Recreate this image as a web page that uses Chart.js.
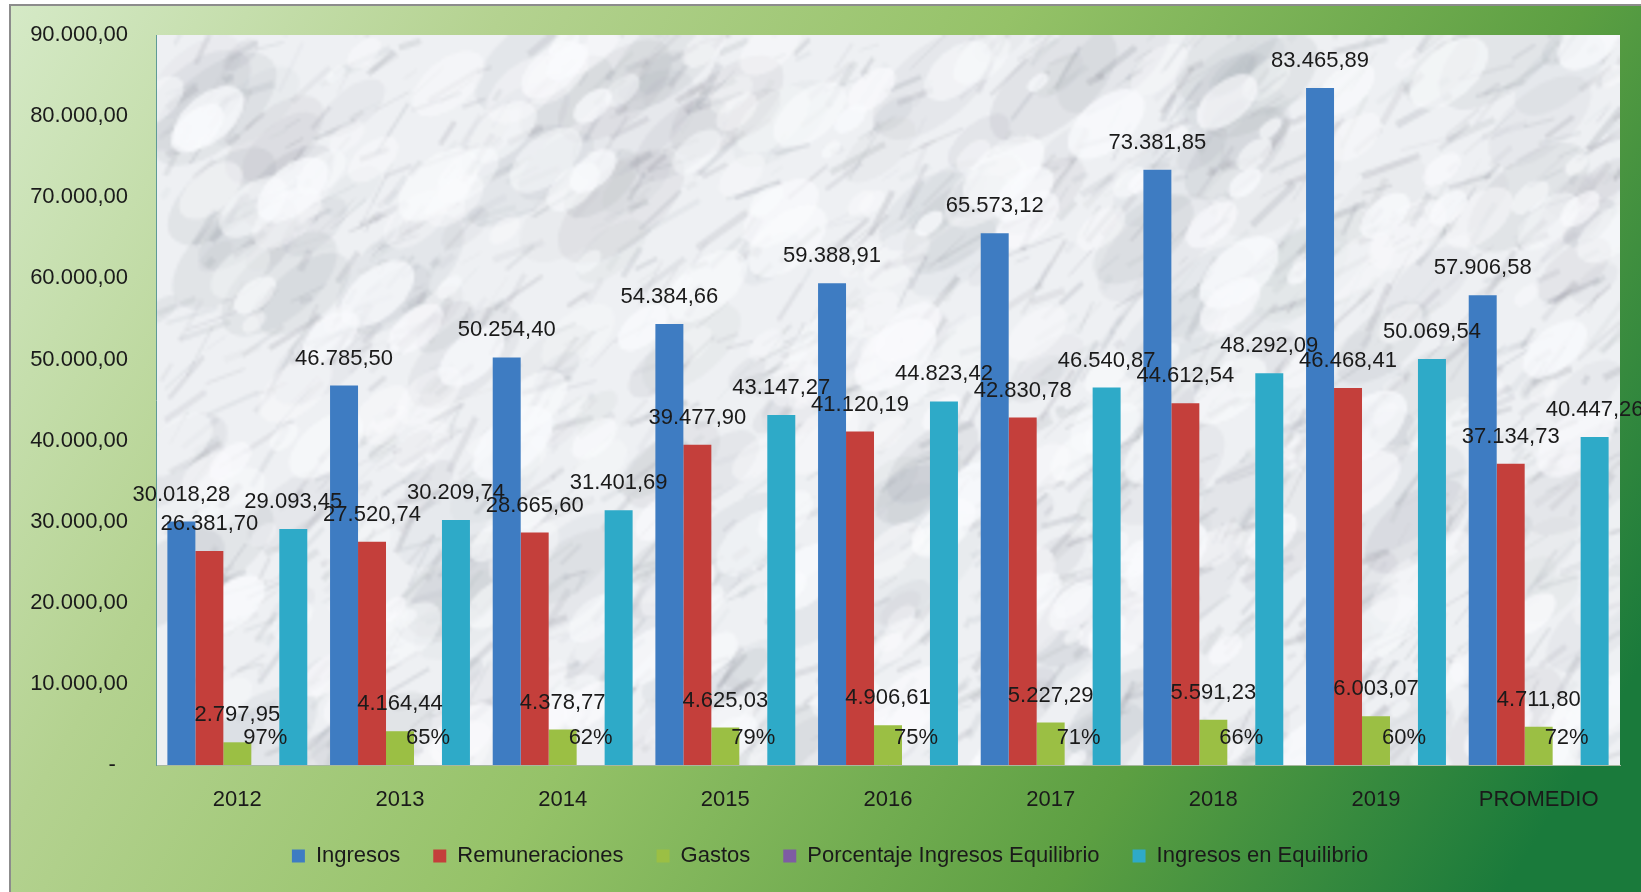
<!DOCTYPE html>
<html><head><meta charset="utf-8">
<script src="https://cdn.jsdelivr.net/npm/chart.js@4.4.1/dist/chart.umd.min.js"></script>
<style>html,body{margin:0;padding:0;background:#fff;overflow:hidden}canvas{display:block}</style>
</head><body>
<canvas id="c" width="1641" height="892"></canvas>
<script>
// ---- data ----
const categories = ['2012','2013','2014','2015','2016','2017','2018','2019','PROMEDIO'];
const ingresos = [30018.28, 46785.50, 50254.40, 54384.66, 59388.91, 65573.12, 73381.85, 83465.89, 57906.58];
const remuneraciones = [26381.70, 27520.74, 28665.60, 39477.90, 41120.19, 42830.78, 44612.54, 46468.41, 37134.73];
const gastos = [2797.95, 4164.44, 4378.77, 4625.03, 4906.61, 5227.29, 5591.23, 6003.07, 4711.80];
const porcentajeEquilibrio = [97, 65, 62, 79, 75, 71, 66, 60, 72]; // percent
const ingresosEquilibrio = [29093.45, 30209.74, 31401.69, 43147.27, 44823.42, 46540.87, 48292.09, 50069.54, 40447.26];
const yMin = 0, yMax = 90000, yStep = 10000;

function fmt(v){
  const parts = Number(v).toFixed(2).split('.');
  return parts[0].replace(/\B(?=(\d{3})+(?!\d))/g,'.') + ',' + parts[1];
}

const FONT = 'Liberation Sans';
const TXT = '#1a1a1a';

// decorative marble texture (deterministic), drawn at low resolution and scaled up
function makeMarble(w,h){
  const k=3, sw=Math.ceil(w/k), sh=Math.ceil(h/k);
  const c=document.createElement('canvas'); c.width=sw; c.height=sh;
  const x=c.getContext('2d');
  x.fillStyle='#eef0f3'; x.fillRect(0,0,sw,sh);
  let s=24681;
  const rnd=()=>{ s=(s*16807)%2147483647; return s/2147483647; };
  for(let i=0;i<220;i++){
    const px=rnd()*sw, py=rnd()*sh, r=3+rnd()*10;
    x.fillStyle='rgba(150,155,165,'+(0.05+rnd()*0.10).toFixed(3)+')';
    x.beginPath(); x.ellipse(px,py,r*2,r,-0.7,0,Math.PI*2); x.fill();
  }
  for(let i=0;i<1500;i++){
    const px=rnd()*sw, py=rnd()*sh;
    const len=3+rnd()*18;
    const ang=-0.7+(rnd()-0.5)*0.9;
    const a=0.04+rnd()*0.16;
    x.strokeStyle='rgba(125,130,140,'+a.toFixed(3)+')';
    x.lineWidth=0.6+rnd()*1.8;
    x.beginPath();
    x.moveTo(px,py);
    x.lineTo(px+Math.cos(ang)*len,py+Math.sin(ang)*len);
    x.stroke();
  }
  for(let i=0;i<260;i++){
    const px=rnd()*sw, py=rnd()*sh, r=2+rnd()*7;
    x.fillStyle='rgba(250,251,253,'+(0.35+rnd()*0.4).toFixed(3)+')';
    x.beginPath(); x.ellipse(px,py,r*1.8,r,-0.7,0,Math.PI*2); x.fill();
  }
  return c;
}
let marble=null;

const bgPlugin = {
  id:'bg',
  afterLayout(chart){
    const lg=chart.legend;
    if(lg){ lg.left+=20; lg.right+=20; }
  },
  beforeDraw(chart){
    const ctx=chart.ctx, W=chart.width, H=chart.height;
    const {left,top,right,bottom}=chart.chartArea;
    ctx.save();
    ctx.fillStyle='#ffffff'; ctx.fillRect(0,0,W,H);
    const g=ctx.createLinearGradient(0,0,1500,900);
    g.addColorStop(0,'#d6eac8');
    g.addColorStop(0.25,'#b4d290');
    g.addColorStop(0.5,'#95c268');
    g.addColorStop(0.78,'#5c9f42');
    g.addColorStop(1,'#1a7a3b');
    ctx.fillStyle=g; ctx.fillRect(10,5,W-10,H-5);
    ctx.strokeStyle='#8c8c8c'; ctx.lineWidth=2;
    ctx.beginPath(); ctx.moveTo(10,H); ctx.lineTo(10,5); ctx.lineTo(W,5); ctx.stroke();
    const w=Math.round(right-left), h=Math.round(bottom-top);
    if(!marble) marble=makeMarble(w,h);
    ctx.imageSmoothingEnabled=true; ctx.imageSmoothingQuality='high';
    ctx.drawImage(marble,left,top,right-left,bottom-top);
    ctx.restore();
  }
};

const labelPlugin = {
  id:'vals',
  afterDatasetsDraw(chart){
    const ctx=chart.ctx;
    ctx.save();
    ctx.font='22px "'+FONT+'"';
    ctx.fillStyle=TXT; ctx.textAlign='center'; ctx.textBaseline='middle';
    chart.data.datasets.forEach((ds,i)=>{
      const meta=chart.getDatasetMeta(i);
      meta.data.forEach((el,j)=>{
        const txt = ds.pctLabels ? ds.pctLabels[j]+'%' : fmt(ds.data[j]);
        ctx.fillText(txt, el.x, el.y-27);
      });
    });
    ctx.restore();
  }
};

const font = {family:FONT, size:22};
new Chart(document.getElementById('c'), {
  type:'bar',
  data:{
    labels:categories,
    datasets:[
      {label:'Ingresos', data:ingresos, backgroundColor:'#3e7cc2'},
      {label:'Remuneraciones', data:remuneraciones, backgroundColor:'#c43f3b'},
      {label:'Gastos', data:gastos, backgroundColor:'#9bbf44'},
      {label:'Porcentaje Ingresos Equilibrio', data:porcentajeEquilibrio.map(p=>p/100), pctLabels:porcentajeEquilibrio, backgroundColor:'#7e5ca3'},
      {label:'Ingresos en Equilibrio', data:ingresosEquilibrio, backgroundColor:'#2eaac8'}
    ].map(d=>Object.assign(d,{borderWidth:0, barPercentage:1, categoryPercentage:0.86}))
  },
  options:{
    responsive:false, devicePixelRatio:1, animation:false,
    layout:{padding:{left:0,right:21,top:35,bottom:15}},
    plugins:{
      legend:{position:'bottom', labels:{font, color:TXT, boxWidth:13, boxHeight:13, padding:33}},
      tooltip:{enabled:false}
    },
    scales:{
      x:{
        grid:{display:false, drawTicks:false},
        border:{display:true, color:'#a8b8a0', width:1},
        ticks:{font, color:TXT, padding:22},
        afterFit(s){ s.height=47; s.paddingLeft=0; s.paddingRight=0; }
      },
      y:{
        min:yMin, max:yMax,
        grid:{display:false, drawTicks:false},
        border:{display:true, color:'#5f9a96', width:1},
        ticks:{stepSize:yStep, font, color:TXT, padding:28, callback:v=> v===0 ? '-  ' : fmt(v)},
        afterFit(s){ s.width=156; s.paddingTop=0; s.paddingBottom=0; }
      }
    }
  },
  plugins:[bgPlugin, labelPlugin]
});
</script>
</body></html>
